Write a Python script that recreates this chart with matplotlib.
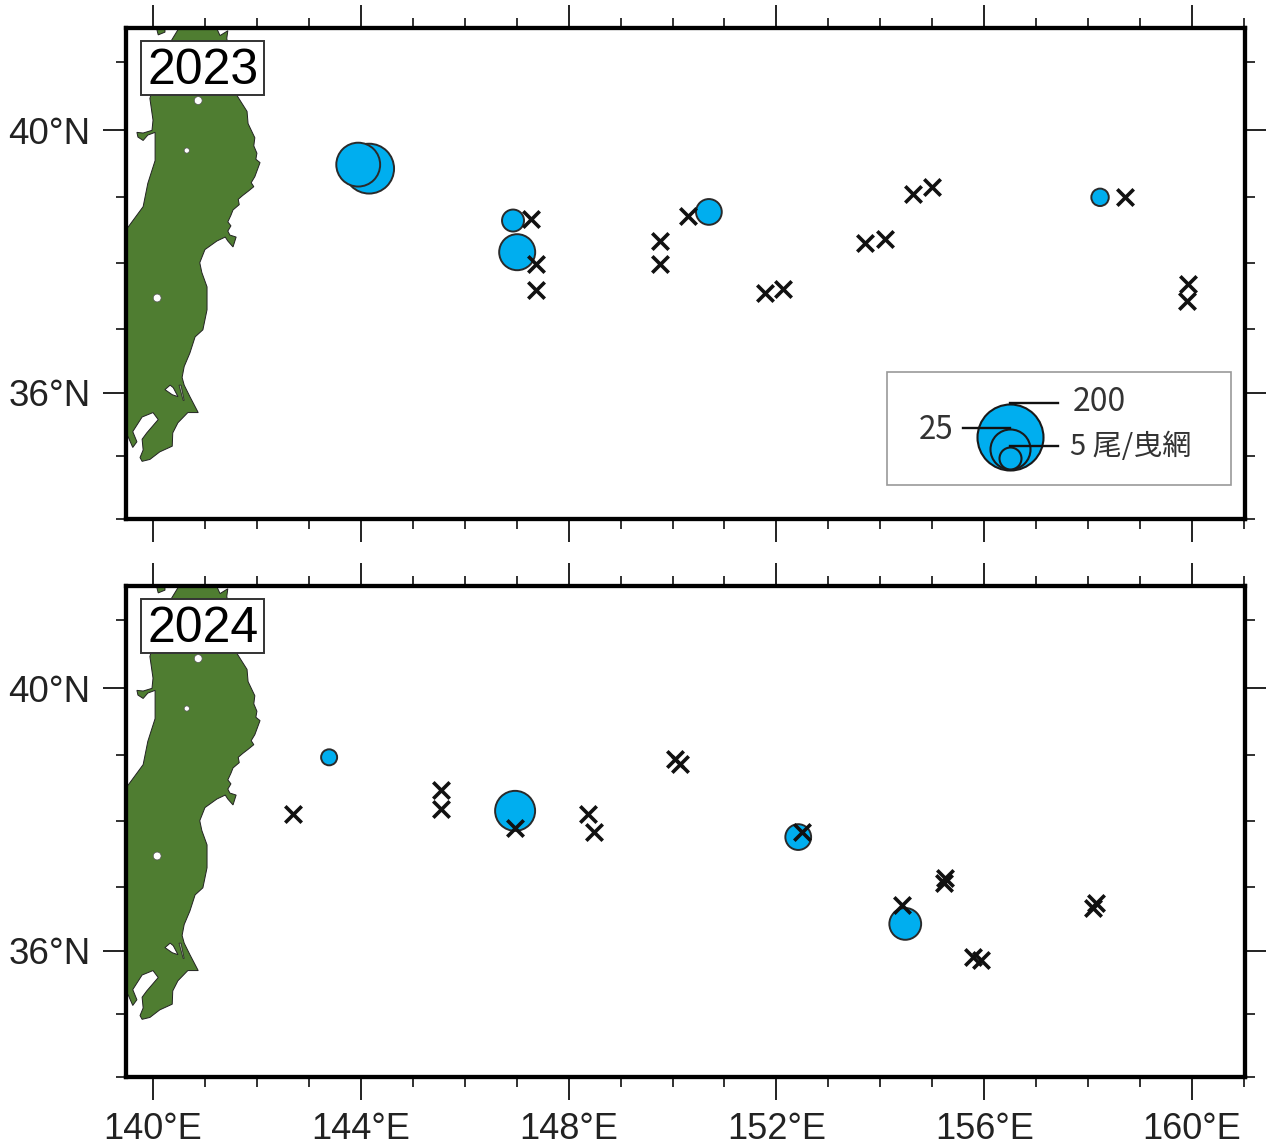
import matplotlib
matplotlib.use("Agg")
import matplotlib.pyplot as plt
from matplotlib.patches import Rectangle
import numpy as np

# stations with catch (lon, lat, fish per haul)
catch_lon_2023 = [144.16, 143.95, 146.93, 147.01, 150.70, 158.23]
catch_lat_2023 = [39.43, 39.49, 38.65, 38.17, 38.78, 39.00]
catch_n_2023 = [55, 34, 5, 17.5, 7, 2]

zero_lon_2023 = [147.28, 147.37, 147.37, 149.76, 149.76, 150.30, 151.78, 152.13,
                 153.71, 154.09, 154.63, 155.00, 158.71, 159.92, 159.90]
zero_lat_2023 = [38.68, 37.99, 37.60, 38.34, 37.99, 38.72, 37.55, 37.61,
                 38.31, 38.37, 39.05, 39.15, 39.00, 37.69, 37.43]

catch_lon_2024 = [143.39, 146.97, 152.42, 154.48]
catch_lat_2024 = [38.97, 38.16, 37.76, 36.42]
catch_n_2024 = [1.5, 25, 7, 12]

zero_lon_2024 = [142.69, 145.54, 145.54, 146.97, 148.37, 148.49, 150.05, 150.14,
                 152.49, 154.42, 155.25, 155.23, 155.78, 155.94, 158.09, 158.15]
zero_lat_2024 = [38.11, 38.48, 38.19, 37.90, 38.11, 37.84, 38.95, 38.87,
                 37.84, 36.72, 37.13, 37.06, 35.91, 35.86, 36.67, 36.74]

# Honshu coastline
land_lon = [140.87, 141.10, 141.29, 141.44, 141.42, 141.62, 141.81, 141.83, 141.96, 141.94, 142.00, 141.98,
            142.06, 141.96, 141.89, 141.94, 141.83, 141.73, 141.64, 141.66, 141.54, 141.50, 141.44, 141.50,
            141.44, 141.48, 141.60, 141.54, 141.44, 141.39, 141.23,
            141.00, 140.90, 140.94, 141.04, 141.04, 140.96, 140.81, 140.71, 140.60,
            140.56, 140.60, 140.71, 140.87, 140.67, 140.48, 140.38, 140.37, 140.13, 139.94,
            139.79, 139.75, 139.81, 139.79, 139.88, 140.10, 140.00, 139.79, 139.61, 139.69,
            139.61, 139.52, 139.36, 139.36, 139.52, 139.81, 139.90, 140.04, 140.04, 140.04,
            139.90, 139.81, 139.71, 139.69, 139.81, 139.98, 140.00, 139.94, 140.13, 140.50]
land_lat = [41.70, 41.70, 41.39, 41.46, 41.35, 40.51, 40.28, 40.10, 39.89, 39.77, 39.66, 39.57,
            39.52, 39.31, 39.22, 39.16, 39.09, 39.03, 38.97, 38.89, 38.81, 38.73, 38.63, 38.57,
            38.49, 38.43, 38.40, 38.25, 38.34, 38.40, 38.34,
            38.21, 38.01, 37.86, 37.64, 37.29, 36.98, 36.87, 36.62, 36.41,
            36.24, 36.12, 35.94, 35.69, 35.69, 35.53, 35.37, 35.16, 35.07, 34.95,
            34.92, 34.98, 35.10, 35.27, 35.37, 35.58, 35.69, 35.62, 35.39, 35.23,
            35.14, 35.31, 35.31, 38.55, 38.55, 38.86, 39.21, 39.55, 39.80, 39.97,
            39.93, 39.85, 39.90, 39.97, 39.96, 40.00, 40.15, 40.47, 41.04, 41.50]
cape_lon = [140.00, 140.10, 140.23, 140.23, 140.00]
cape_lat = [41.70, 41.40, 41.44, 41.70, 41.70]
lagoon_lon = [140.23, 140.33, 140.39, 140.48, 140.37]
lagoon_lat = [36.05, 36.12, 36.08, 35.94, 35.97]
slit_lon = [140.50, 140.54, 140.60, 140.58]
slit_lat = [36.12, 36.12, 35.88, 35.88]
lake_lon = [140.08, 140.65, 140.87]
lake_lat = [37.47, 39.70, 40.44]

# legend
legend_n = [200, 25, 5]
scale_n = [1, 5, 25, 200]
scale_r = [7, 11, 20, 33]

x_major = [140, 144, 148, 152, 156, 160]
x_minor = list(range(140, 162))
y_major = [36, 40]
y_minor = list(range(34, 42))

FONT = "Liberation Sans"
CJK = ["Noto Sans CJK JP", "DejaVu Sans"]
BLUE = "#00AEEF"
GREEN = "#4F7D31"
W, H = 1266, 1148


def merc(lat):
    return np.degrees(np.log(np.tan(np.radians(45 + np.asarray(lat, dtype=float) / 2))))


def inv_merc(m):
    return 2 * np.degrees(np.arctan(np.exp(np.radians(np.asarray(m, dtype=float))))) - 90


def size(n):
    # px radius to scatter area
    r = np.interp(np.log(n), np.log(scale_n), scale_r)
    return (2 * r * 0.72) ** 2


def draw_panel(top, year, c_lon, c_lat, c_n, z_lon, z_lat, labels):
    ax = fig.add_axes([126 / W, 1 - (top + 491) / H, 1119 / W, 491 / H])
    ax.set_yscale("function", functions=(merc, inv_merc))
    ax.set_xlim(139.48, 161.02)
    ax.set_ylim(34, 41.5)

    ax.fill(land_lon, land_lat, fc=GREEN, ec="#222222", lw=0.7, zorder=1)
    ax.fill(cape_lon, cape_lat, fc=GREEN, ec="#222222", lw=0.7, zorder=1)
    ax.fill(lagoon_lon, lagoon_lat, fc="white", ec="#222222", lw=0.7, zorder=2)
    ax.fill(slit_lon, slit_lat, fc="#9aa88f", ec="#222222", lw=0.5, zorder=2)
    ax.scatter(lake_lon, lake_lat, s=[32, 14, 32], c="white", edgecolors="#555555", linewidths=0.5, zorder=2)

    ax.scatter(c_lon, c_lat, s=size(c_n), c=BLUE, edgecolors="#2a2a2a", linewidths=1.4, zorder=3)
    ax.scatter(z_lon, z_lat, s=140, marker="x", c="#111111", linewidths=2.6, zorder=4)

    ax.set_xticks(x_major)
    ax.set_xticks(x_minor, minor=True)
    ax.set_yticks(y_major)
    ax.set_yticks(y_minor, minor=True)
    ax.xaxis.set_major_formatter(plt.NullFormatter())
    ax.yaxis.set_major_formatter(plt.NullFormatter())
    ax.xaxis.set_minor_formatter(plt.NullFormatter())
    ax.yaxis.set_minor_formatter(plt.NullFormatter())
    ax.set_yticklabels([f"{v}°N" for v in y_major], fontname=FONT, fontsize=26.5, color="#222222")
    if labels:
        ax.set_xticklabels([f"{v}°E" for v in x_major], fontname=FONT, fontsize=26, color="#222222")
    ax.tick_params(which="major", length=16.5, width=1.4, top=True, right=True, color="#222222", pad=9)
    ax.tick_params(which="minor", length=7.5, width=1.3, top=True, right=True, color="#222222")
    for s in ax.spines.values():
        s.set_linewidth(3.1)
        s.set_zorder(6)

    # year box
    ax.add_patch(Rectangle((0.0134, 0.8635), 0.11, 0.11, transform=ax.transAxes,
                           fc="white", ec="#333333", lw=1.4, zorder=5))
    ax.text(0.0685, 0.9124, year, transform=ax.transAxes, ha="center", va="center",
            fontname=FONT, fontsize=36, color="black", zorder=6)
    return ax


fig = plt.figure(figsize=(W / 100, H / 100), dpi=100, facecolor="white")

ax1 = draw_panel(28, "2023", catch_lon_2023, catch_lat_2023, catch_n_2023, zero_lon_2023, zero_lat_2023, False)
ax2 = draw_panel(586, "2024", catch_lon_2024, catch_lat_2024, catch_n_2024, zero_lon_2024, zero_lat_2024, True)

# legend box, placed in axes fractions of the upper panel
ax1.add_patch(Rectangle((0.6800, 0.0692), 0.3074, 0.2302, transform=ax1.transAxes,
                        fc="white", ec="#999999", lw=1.2, zorder=3))
leg_x = 0.7900
leg_y = [0.1670, 0.1426, 0.1243]
for n, y in zip(legend_n, leg_y):
    ax1.scatter([leg_x], [y], s=size(n), c=BLUE, edgecolors="#1a1a1a", linewidths=1.5,
                transform=ax1.transAxes, zorder=4, clip_on=False)
ax1.plot([0.7900, 0.8329], [0.2363, 0.2363], color="#111111", lw=1.7, transform=ax1.transAxes, zorder=5)
ax1.plot([0.7480, 0.7900], [0.1853, 0.1853], color="#111111", lw=1.7, transform=ax1.transAxes, zorder=5)
ax1.plot([0.7900, 0.8329], [0.1487, 0.1487], color="#111111", lw=1.7, transform=ax1.transAxes, zorder=5)
ax1.text(0.8465, 0.2383, "200", transform=ax1.transAxes, ha="left", va="center",
         family=CJK, fontsize=23, color="#333333", zorder=5)
ax1.text(0.7085, 0.1814, "25", transform=ax1.transAxes, ha="left", va="center",
         family=CJK, fontsize=22.5, color="#333333", zorder=5)
ax1.text(0.8435, 0.1466, "5 尾/曳網", transform=ax1.transAxes, ha="left", va="center",
         family=CJK, fontsize=21, color="#333333", zorder=5)

fig.savefig("out.png", dpi=100, facecolor="white")
